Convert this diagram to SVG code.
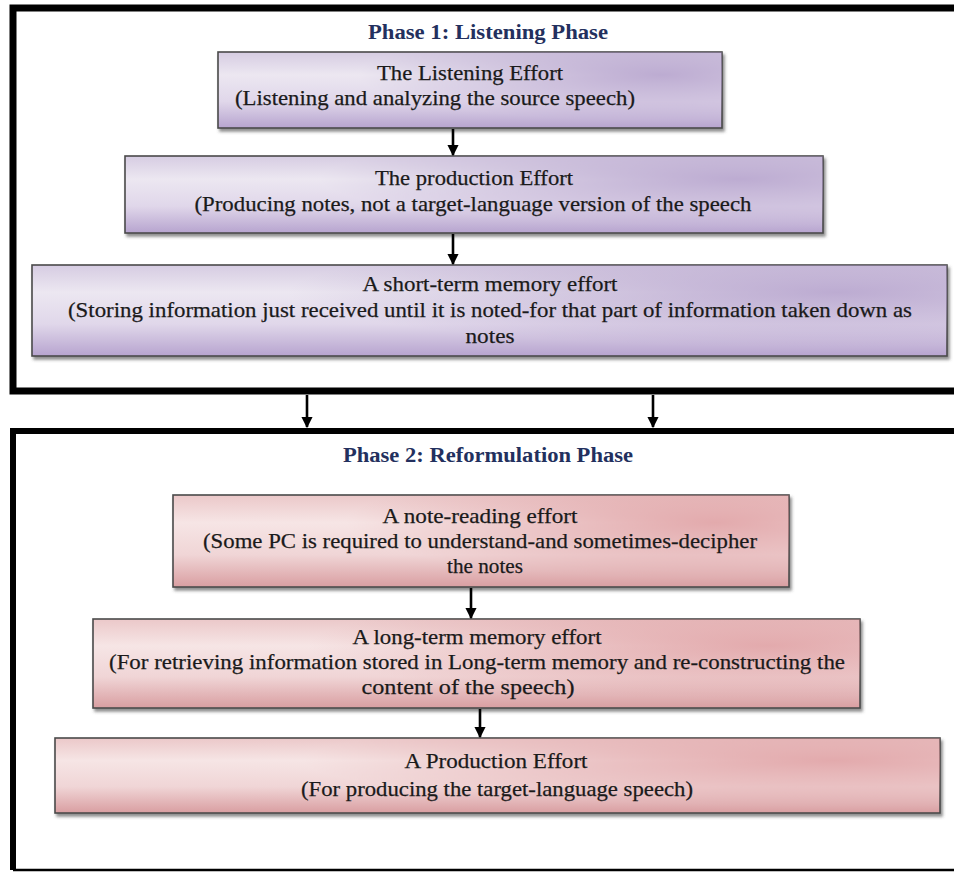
<svg xmlns="http://www.w3.org/2000/svg" width="954" height="875" viewBox="0 0 954 875">
<style>
.frame{fill:none;stroke:#000;}
.title{font-family:"Liberation Serif","Times New Roman",serif;font-weight:bold;font-size:20px;fill:#23305e;text-anchor:middle;}
.txt{font-family:"Liberation Serif","Times New Roman",serif;font-size:22px;fill:#1a1a1a;stroke:#1a1a1a;stroke-width:0.25;text-anchor:middle;}
.box{stroke:#4a4a4a;stroke-width:1.6;}
.conn{stroke:#000;stroke-width:2.6;fill:none;marker-end:url(#ah);}
</style>
<defs>
<marker id="ah" viewBox="0 0 10 10" refX="9" refY="5" markerWidth="4.4" markerHeight="4.4" orient="auto" markerUnits="strokeWidth">
<path d="M0,0 L10,5 L0,10 z" fill="#000"/>
</marker>
<filter id="sh" x="-5%" y="-10%" width="112%" height="130%">
<feDropShadow dx="2" dy="3" stdDeviation="1.5" flood-color="#444" flood-opacity="0.6"/>
</filter>
<linearGradient id="pg" x1="0" y1="0" x2="0" y2="1">
<stop offset="0" stop-color="#d6cce2"/>
<stop offset="0.3" stop-color="#ece7f1"/>
<stop offset="0.65" stop-color="#e0d7ea"/>
<stop offset="1" stop-color="#b7a4cf"/>
</linearGradient>
<radialGradient id="pr" cx="0.88" cy="0.3" r="0.6">
<stop offset="0" stop-color="#a892c4" stop-opacity="0.7"/>
<stop offset="1" stop-color="#a892c4" stop-opacity="0"/>
</radialGradient>
<linearGradient id="rg" x1="0" y1="0" x2="0" y2="1">
<stop offset="0" stop-color="#ebc8c9"/>
<stop offset="0.3" stop-color="#f6e5e5"/>
<stop offset="0.65" stop-color="#f0d5d6"/>
<stop offset="1" stop-color="#d99ea1"/>
</linearGradient>
<radialGradient id="rr" cx="0.88" cy="0.3" r="0.6">
<stop offset="0" stop-color="#d88a8e" stop-opacity="0.65"/>
<stop offset="1" stop-color="#d88a8e" stop-opacity="0"/>
</radialGradient>
</defs>
<rect width="954" height="875" fill="#fff"/>

<g id="phase1">
<path class="frame" d="M960,8 H13 V391 H960" stroke-width="7"/>
<text class="title" x="488" y="39" textLength="240" lengthAdjust="spacingAndGlyphs">Phase 1: Listening Phase</text>
</g>

<g id="phase2">
<path class="frame" d="M960,431 H13 V870" stroke-width="6"/>
<path class="frame" d="M13,870 H960" stroke-width="2.5" stroke="#222"/>
<text class="title" x="488" y="462" textLength="290" lengthAdjust="spacingAndGlyphs">Phase 2: Reformulation Phase</text>
</g>

<g id="n1">
<rect class="box" x="218" y="52" width="504" height="76" fill="url(#pg)" filter="url(#sh)"/>
<rect x="218" y="52" width="504" height="76" fill="url(#pr)"/>
<text class="txt" x="470" y="80" textLength="186" lengthAdjust="spacingAndGlyphs">The Listening Effort</text>
<text class="txt" x="435" y="105" textLength="400" lengthAdjust="spacingAndGlyphs">(Listening and analyzing the source speech)</text>
</g>

<g id="n2">
<rect class="box" x="125" y="156" width="698" height="77" fill="url(#pg)" filter="url(#sh)"/>
<rect x="125" y="156" width="698" height="77" fill="url(#pr)"/>
<text class="txt" x="474" y="185" textLength="198" lengthAdjust="spacingAndGlyphs">The production Effort</text>
<text class="txt" x="473" y="211" textLength="557" lengthAdjust="spacingAndGlyphs">(Producing notes, not a target-language version of the speech</text>
</g>

<g id="n3">
<rect class="box" x="32" y="265" width="915" height="91" fill="url(#pg)" filter="url(#sh)"/>
<rect x="32" y="265" width="915" height="91" fill="url(#pr)"/>
<text class="txt" x="490" y="291" textLength="255" lengthAdjust="spacingAndGlyphs">A short-term memory effort</text>
<text class="txt" x="490" y="317" textLength="844" lengthAdjust="spacingAndGlyphs">(Storing information just received until it is noted-for that part of information taken down as</text>
<text class="txt" x="490" y="343" textLength="49" lengthAdjust="spacingAndGlyphs">notes</text>
</g>

<g id="n4">
<rect class="box" x="173" y="495" width="616" height="92" fill="url(#rg)" filter="url(#sh)"/>
<rect x="173" y="495" width="616" height="92" fill="url(#rr)"/>
<text class="txt" x="480" y="523" textLength="195" lengthAdjust="spacingAndGlyphs">A note-reading effort</text>
<text class="txt" x="480" y="548" textLength="554" lengthAdjust="spacingAndGlyphs">(Some PC is required to understand-and sometimes-decipher</text>
<text class="txt" x="485" y="573" textLength="76" lengthAdjust="spacingAndGlyphs">the notes</text>
</g>

<g id="n5">
<rect class="box" x="93" y="619" width="767" height="89" fill="url(#rg)" filter="url(#sh)"/>
<rect x="93" y="619" width="767" height="89" fill="url(#rr)"/>
<text class="txt" x="477" y="644" textLength="249" lengthAdjust="spacingAndGlyphs">A long-term memory effort</text>
<text class="txt" x="477" y="669" textLength="736" lengthAdjust="spacingAndGlyphs">(For retrieving information stored in Long-term memory and re-constructing the</text>
<text class="txt" x="468" y="694" textLength="213" lengthAdjust="spacingAndGlyphs">content of the speech)</text>
</g>

<g id="n6">
<rect class="box" x="55" y="738" width="885" height="75" fill="url(#rg)" filter="url(#sh)"/>
<rect x="55" y="738" width="885" height="75" fill="url(#rr)"/>
<text class="txt" x="496" y="768" textLength="183" lengthAdjust="spacingAndGlyphs">A Production Effort</text>
<text class="txt" x="497" y="796" textLength="392" lengthAdjust="spacingAndGlyphs">(For producing the target-language speech)</text>
</g>

<g id="connectors">
<line class="conn" x1="453" y1="129" x2="453" y2="155"/>
<line class="conn" x1="453" y1="234" x2="453" y2="264"/>
<line class="conn" x1="307" y1="395" x2="307" y2="427"/>
<line class="conn" x1="653" y1="395" x2="653" y2="427"/>
<line class="conn" x1="471" y1="588" x2="471" y2="618"/>
<line class="conn" x1="480" y1="709" x2="480" y2="737"/>
</g>
</svg>
